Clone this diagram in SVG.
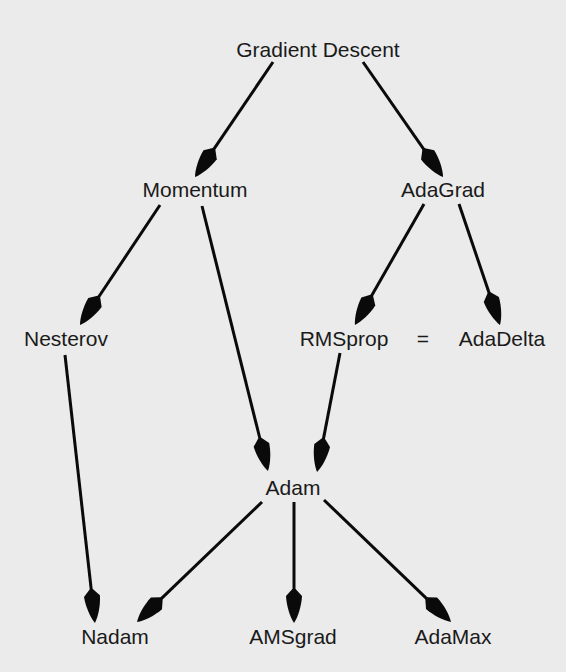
<svg xmlns="http://www.w3.org/2000/svg" width="566" height="672" viewBox="0 0 566 672">
<defs>
<marker id="ah" markerUnits="userSpaceOnUse" orient="auto" refX="0" refY="0" markerWidth="40" markerHeight="20" overflow="visible">
<path d="M-1,-1.6 L6,-8 C16,-7.5 27,-4 33,0 C27,4 16,7.5 6,8 L-1,1.6 Z" fill="#0a0a0a"/>
</marker>
<style>
text{font-family:"Liberation Sans",Arial,sans-serif;font-size:21px;fill:#1a1a1a;text-anchor:middle}
.e{stroke:#0a0a0a;stroke-width:3;fill:none;marker-end:url(#ah)}
</style>
</defs>
<rect width="566" height="672" fill="#ebebeb"/>
<g id="edges">
<line class="e" x1="273" y1="62" x2="213.5" y2="149.7"/>
<line class="e" x1="363" y1="62" x2="424.2" y2="149.9"/>
<line class="e" x1="160" y1="205" x2="98.3" y2="297.5"/>
<line class="e" x1="202" y1="206" x2="260" y2="439"/>
<line class="e" x1="424" y1="204" x2="371.3" y2="296.3"/>
<line class="e" x1="459" y1="204" x2="489.4" y2="293.8"/>
<line class="e" x1="65" y1="355" x2="91.3" y2="590.2"/>
<line class="e" x1="340" y1="353" x2="323.3" y2="439.6"/>
<line class="e" x1="262" y1="502" x2="160.8" y2="599.2"/>
<line class="e" x1="294" y1="502" x2="294" y2="590"/>
<line class="e" x1="324" y1="500" x2="427.2" y2="599.1"/>
</g>
<g id="gd"><text x="318" y="57">Gradient Descent</text></g>
<g id="momentum"><text x="195" y="197">Momentum</text></g>
<g id="adagrad"><text x="443" y="197">AdaGrad</text></g>
<g id="nesterov"><text x="66" y="346">Nesterov</text></g>
<g id="rmsprop"><text x="344" y="346">RMSprop</text></g>
<g id="eq"><text x="423" y="346">=</text></g>
<g id="adadelta"><text x="502" y="346">AdaDelta</text></g>
<g id="adam"><text x="293" y="495">Adam</text></g>
<g id="nadam"><text x="115" y="644">Nadam</text></g>
<g id="amsgrad"><text x="293" y="644">AMSgrad</text></g>
<g id="adamax"><text x="453" y="644">AdaMax</text></g>
</svg>
